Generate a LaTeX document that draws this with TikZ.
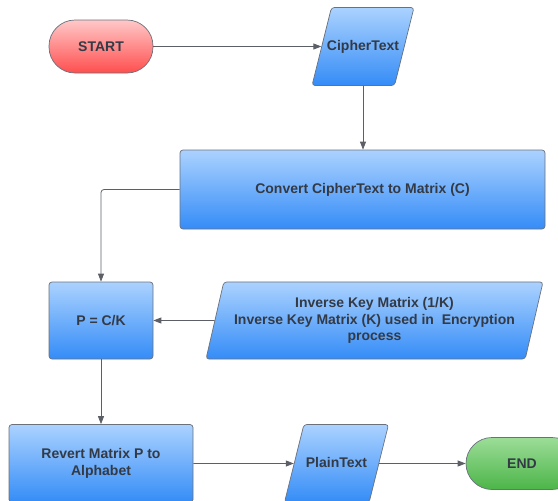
\documentclass[tikz,border=0pt]{standalone}
\usepackage{fontspec}
\setmainfont{Liberation Sans}
\usetikzlibrary{shapes.geometric,arrows.meta}

\definecolor{txtgrey}{HTML}{333A45}
\definecolor{edgegrey}{HTML}{6A717C}
\definecolor{linegrey}{HTML}{5C5F66}
\definecolor{bluetop}{HTML}{ABD2FF}
\definecolor{bluebot}{HTML}{348CF7}
\definecolor{redtop}{HTML}{FFC8C8}
\definecolor{redbot}{HTML}{FF4E4E}
\definecolor{greentop}{HTML}{9CDD98}
\definecolor{greenbot}{HTML}{4CB548}

\tikzset{
  base/.style={draw=edgegrey, line width=0.7pt, text=txtgrey, align=center,
    font=\fontsize{14}{16.5}\selectfont\bfseries, inner sep=2pt},
  procbox/.style={base, rounded corners=3pt, top color=bluetop, bottom color=bluebot},
  iobox/.style={base, trapezium, trapezium left angle=76, trapezium right angle=104,
    trapezium stretches body=true, rounded corners=3pt, top color=bluetop, bottom color=bluebot,
    inner xsep=2pt},
  startbox/.style={base, rounded corners=26pt, top color=redtop, bottom color=redbot},
  stopbox/.style={base, rounded corners=26pt, top color=greentop, bottom color=greenbot},
  flow/.style={draw=linegrey, line width=0.8pt, -{Triangle[length=8pt,width=6pt]}},
}

\begin{document}
\begin{tikzpicture}[x=1pt, y=-1pt]

  \useasboundingbox (0,0) rectangle (558,501);
  \clip (0,0) rectangle (558,501);

  \node[startbox, minimum width=104pt, minimum height=53pt] (start) at (101,46.5) {START};
  \node[iobox, text height=10pt, text depth=3pt, inner ysep=32.5pt, inner xsep=-4.5pt,
    minimum width=101pt] (cipher) at (363,46.5) {CipherText};
  \node[procbox, minimum width=365pt, minimum height=79pt] (convert) at (362.5,189.5) {Convert CipherText to Matrix (C)};
  \node[procbox, minimum width=104pt, minimum height=77pt] (pck) at (101,320.5) {P = C/K};
  \node[iobox, trapezium left angle=77, trapezium right angle=103, inner ysep=15.5pt,
    minimum width=337pt] (inverse) at (374.5,320.5)
    {Inverse Key Matrix (1/K)\\Inverse Key Matrix (K) used in \ Encryption\\process};
  \node[procbox, minimum width=184pt, minimum height=78pt] (revert) at (101,463.5) {Revert Matrix P to\\Alphabet};
  \node[iobox, text height=10pt, text depth=3pt, inner ysep=32.5pt,
    minimum width=103pt] (plain) at (336.5,463.5) {PlainText};
  \node[stopbox, minimum width=112pt, minimum height=52pt] (stop) at (522,463.5) {END};

  \draw[flow] (start.east) -- (start.east -| cipher.west); %% START->CipherText
  \draw[flow] (cipher.south) -- (cipher.south |- convert.north); %% CipherText->Convert
  \draw[flow, rounded corners=3pt] (convert.west) -| (pck.north); %% Convert->P
  \draw[flow] (inverse.west) -- (pck.east); %% Inverse->P
  \draw[flow] (pck.south) -- (revert.north); %% P->Revert
  \draw[flow] (revert.east) -- (plain.west); %% Revert->PlainText
  \draw[flow] (plain.east) -- (stop.west); %% PlainText->END

\end{tikzpicture}
\end{document}
